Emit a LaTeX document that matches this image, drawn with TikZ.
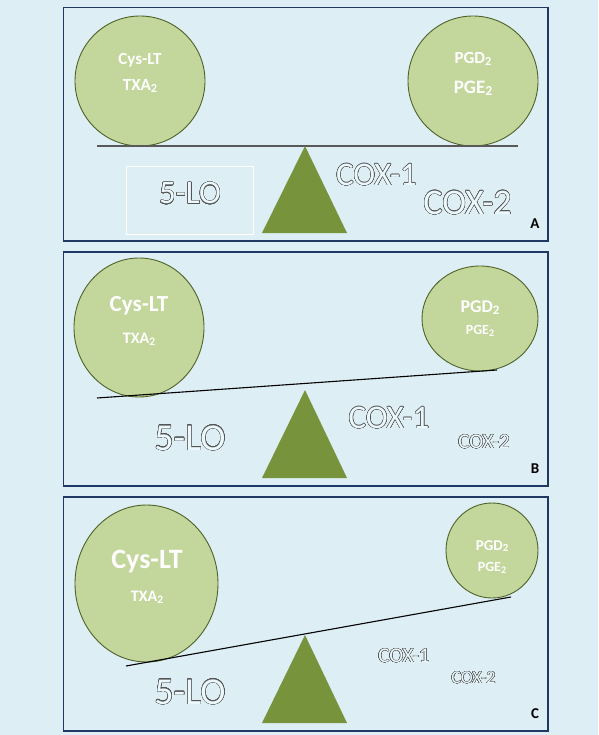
\documentclass[tikz,border=0pt]{standalone}
\usepackage{fontspec}
\setmainfont{Carlito}
\usepackage{contour}
\usetikzlibrary{shapes.geometric}
\definecolor{bg}{HTML}{DDEEF5}
\definecolor{frame}{HTML}{1F3864}
\definecolor{ball}{HTML}{C3D69B}
\definecolor{ballline}{HTML}{4F6228}
\definecolor{pivot}{HTML}{77933C}
\definecolor{outl}{HTML}{555555}
\contourlength{0.4pt}
\contournumber{24}
% subscript two, set a little below the baseline
\newcommand{\lowtwo}{\raisebox{-0.25ex}{\scalebox{0.72}{2}}}
\newcommand{\fs}[1]{\fontsize{#1}{#1}\selectfont}
\newcommand{\hollow}[1]{\contour{outl}{#1}}
\tikzset{
  panel/.style={draw=frame, fill=bg, line width=1.6pt},
  ball/.style={ellipse, draw=ballline, fill=ball, line width=0.9pt, inner sep=0pt},
  balltext/.style={text=white, inner sep=0pt},
  hollowtext/.style={text=white!92!cyan, inner sep=0pt},
  beam/.style={line width=1.1pt},
  fulcrum/.style={fill=pivot},
  tag/.style={font=\bfseries\fs{15}, text=black, inner sep=0pt}
}
\begin{document}
\begin{tikzpicture}[x=1pt,y=-1pt]
\fill[bg] (0,0) rectangle (598,735);
\path[use as bounding box] (0,0) rectangle (598,735);

% ---------- Panel A: balanced ----------
\draw[panel] (63.5,7.5) rectangle (548,241);
\node[ball, minimum width=130, minimum height=130] (lA) at (140,81) {};
\node[balltext, font=\bfseries\fs{17}] (lA1) at (140,60) {Cys-LT};
\node[balltext, font=\bfseries\fs{17}] (lA2) at (140,86) {TXA\lowtwo};
\node[ball, minimum width=130, minimum height=130] (rA) at (473,81) {};
\node[balltext, font=\bfseries\fs{17}] (rA1) at (473,59) {PGD\lowtwo};
\node[balltext, font=\bfseries\fs{19}] (rA2) at (473,88) {PGE\lowtwo};
\coordinate (bA1) at (97,146);
\coordinate (bA2) at (518,146);
\draw[beam, draw=black!65] (bA1) -- (bA2);
\coordinate (tA) at (305,146);
\coordinate (tA1) at (262,233);
\coordinate (tA2) at (347,233);
\fill[fulcrum] (tA) -- (tA1) -- (tA2) -- cycle;
\node[draw=white, line width=0.8pt, minimum width=127, minimum height=68, inner sep=0pt] (boxA) at (189.5,200) {};
\node[hollowtext, font=\fs{33}] (loA) at (190,193.5) {\hollow{5-LO}};
\node[hollowtext, font=\fs{33}] (c1A) at (376.5,175) {\hollow{COX-1}};
\node[hollowtext, font=\fs{36}] (c2A) at (467.5,203) {\hollow{COX-2}};
\node[tag] (tagA) at (535,224) {A};

% ---------- Panel B: tilted towards the left ----------
\draw[panel] (63.5,252) rectangle (548,486);
\node[ball, minimum width=130, minimum height=139] (lB) at (139,327.5) {};
\node[balltext, font=\bfseries\fs{23}] (lB1) at (139,306) {Cys-LT};
\node[balltext, font=\bfseries\fs{16}] (lB2) at (139,339) {TXA\lowtwo};
\node[ball, minimum width=116, minimum height=105] (rB) at (480,318.5) {};
\node[balltext, font=\bfseries\fs{18}] (rB1) at (480,308) {PGD\lowtwo};
\node[balltext, font=\bfseries\fs{14}] (rB2) at (480,331) {PGE\lowtwo};
\coordinate (bB1) at (97,398);
\coordinate (bB2) at (497,370);
\draw[beam, draw=black] (bB1) -- (bB2);
\coordinate (tB) at (305,390);
\coordinate (tB1) at (262,478);
\coordinate (tB2) at (347,478);
\fill[fulcrum] (tB) -- (tB1) -- (tB2) -- cycle;
\node[hollowtext, font=\fs{38}] (loB) at (190,438) {\hollow{5-LO}};
\node[hollowtext, font=\fs{33}] (c1B) at (389,418) {\hollow{COX-1}};
\node[hollowtext, font=\fs{21}] (c2B) at (484,442) {\hollow{COX-2}};
\node[tag] (tagB) at (535,469) {B};

% ---------- Panel C: strongly tilted ----------
\draw[panel] (63.5,497) rectangle (548,731);
\node[ball, minimum width=143, minimum height=157] (lC) at (146.5,583.5) {};
\node[balltext, font=\bfseries\fs{28}] (lC1) at (147,562) {Cys-LT};
\node[balltext, font=\bfseries\fs{16}] (lC2) at (147,597) {TXA\lowtwo};
\node[ball, minimum width=92, minimum height=95] (rC) at (492,550.5) {};
\node[balltext, font=\bfseries\fs{15}] (rC1) at (492,546) {PGD\lowtwo};
\node[balltext, font=\bfseries\fs{14}] (rC2) at (492,568) {PGE\lowtwo};
\coordinate (bC1) at (126,666);
\coordinate (bC2) at (511,597);
\draw[beam, draw=black] (bC1) -- (bC2);
\coordinate (tC) at (305,635);
\coordinate (tC1) at (262,723);
\coordinate (tC2) at (347,723);
\fill[fulcrum] (tC) -- (tC1) -- (tC2) -- cycle;
\node[hollowtext, font=\fs{38}] (loC) at (190,692) {\hollow{5-LO}};
\node[hollowtext, font=\fs{21}] (c1C) at (404,656) {\hollow{COX-1}};
\node[hollowtext, font=\fs{18}] (c2C) at (473.5,678) {\hollow{COX-2}};
\node[tag] (tagC) at (535,714) {C};
\end{tikzpicture}
\end{document}
